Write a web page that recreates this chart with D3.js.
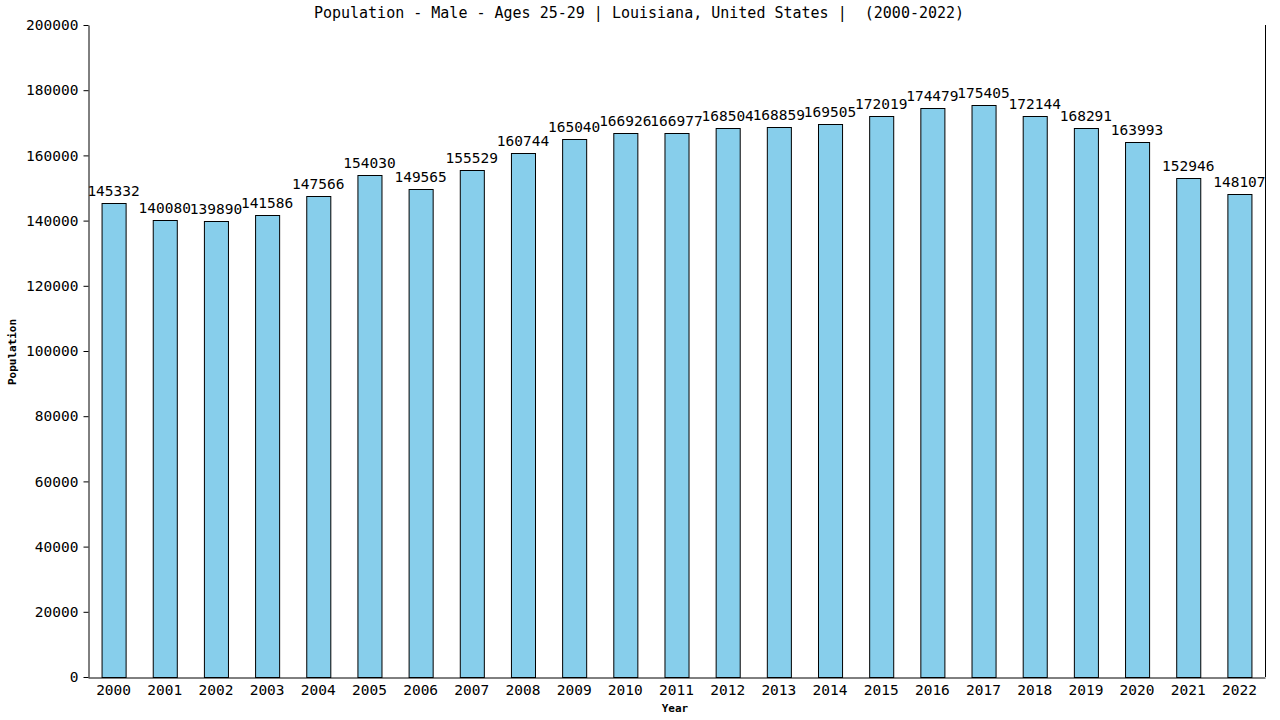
<!DOCTYPE html>
<html>
<head>
<meta charset="utf-8">
<script src="https://cdn.jsdelivr.net/npm/d3@7"></script>
<style>
  html, body { margin: 0; padding: 0; background: #fff; }
  svg { display: block; }
</style>
</head>
<body>
<div id="chart"></div>
<script>
// data
const years = ["2000","2001","2002","2003","2004","2005","2006","2007","2008","2009","2010",
  "2011","2012","2013","2014","2015","2016","2017","2018","2019","2020","2021","2022"];
const population = [145332,140080,139890,141586,147566,154030,149565,155529,160744,165040,166926,
  166977,168504,168859,169505,172019,174479,175405,172144,168291,163993,152946,148107];
const yTicks = [0,20000,40000,60000,80000,100000,120000,140000,160000,180000,200000];

const width = 1280, height = 720;
const marginTop = 25, marginRight = 15, marginBottom = 43, marginLeft = 88;
const font = "'DejaVu Sans Mono', monospace";

const svg = d3.select("#chart").append("svg")
  .attr("width", width)
  .attr("height", height)
  .attr("font-family", font);

const x = d3.scaleBand()
  .domain(years)
  .range([marginLeft, width - marginRight])
  .paddingInner(0.53)
  .paddingOuter(0.265);

const y = d3.scaleLinear()
  .domain([0, 200000])
  .range([height - marginBottom, marginTop]);

// title (keep the double space before the year range)
svg.append("text")
  .attr("x", 639)
  .attr("y", 18)
  .attr("text-anchor", "middle")
  .attr("font-size", 15)
  .style("white-space", "pre")
  .text("Population - Male - Ages 25-29 | Louisiana, United States |  (2000-2022)");

// bars
svg.append("g")
  .selectAll("rect")
  .data(population)
  .join("rect")
  .attr("x", (d, i) => x(years[i]) + 0.5)
  .attr("y", d => Math.round(y(d)) + 0.5)
  .attr("width", x.bandwidth())
  .attr("height", d => y(0) - Math.round(y(d)))
  .attr("fill", "#87ceeb")
  .attr("stroke", "#000")
  .attr("stroke-width", 1);

// value labels
svg.append("g")
  .selectAll("text")
  .data(population)
  .join("text")
  .attr("x", (d, i) => x(years[i]) + x.bandwidth() / 2)
  .attr("y", d => y(d) - 7)
  .attr("text-anchor", "middle")
  .attr("font-size", 14.5)
  .text(d => d);

// y axis
const yAxis = svg.append("g")
  .attr("transform", `translate(${marginLeft + 0.5},0)`)
  .call(d3.axisLeft(y).tickValues(yTicks).tickFormat(d => d).tickSize(5).tickSizeOuter(0));
yAxis.select(".domain").attr("stroke", "#000");
yAxis.selectAll("text").attr("font-family", font).attr("font-size", 14.5).attr("fill", "#000").attr("dx", -2);

// x axis
const xAxis = svg.append("g")
  .attr("transform", `translate(0,${height - marginBottom + 0.5})`)
  .call(d3.axisBottom(x).tickSize(0).tickSizeOuter(0));
xAxis.select(".domain").attr("stroke", "#000");
xAxis.selectAll("text").attr("font-family", font).attr("font-size", 14.5).attr("fill", "#000").attr("dy", "1em");

// right border
svg.append("line")
  .attr("x1", width - marginRight + 0.5)
  .attr("x2", width - marginRight + 0.5)
  .attr("y1", marginTop)
  .attr("y2", height - marginBottom)
  .attr("stroke", "#000");

// axis titles
svg.append("text")
  .attr("x", 675)
  .attr("y", 712)
  .attr("text-anchor", "middle")
  .attr("font-size", 11)
  .attr("font-weight", "bold")
  .text("Year");

svg.append("text")
  .attr("transform", "translate(16,352) rotate(-90)")
  .attr("text-anchor", "middle")
  .attr("font-size", 11)
  .attr("font-weight", "bold")
  .text("Population");
</script>
</body>
</html>
